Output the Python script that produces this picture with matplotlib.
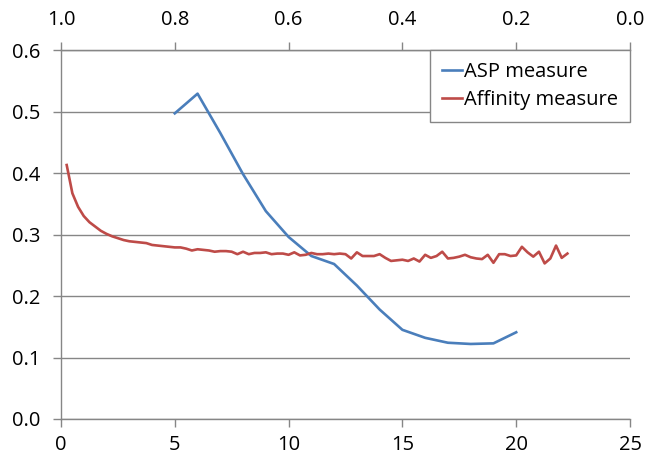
import numpy as np
import matplotlib
matplotlib.use('Agg')
import matplotlib.pyplot as plt

plt.rcParams['font.family'] = ['Open Sans', 'DejaVu Sans']

# ASP measure, sampled at integer x
asp_x = [5, 6, 7, 8, 9, 10, 11, 12, 13, 14, 15, 16, 17, 18, 19, 20]
asp_y = [0.497, 0.529, 0.465, 0.398, 0.338, 0.296, 0.265, 0.252,
         0.217, 0.178, 0.145, 0.132, 0.124, 0.122, 0.123, 0.141]

# Affinity measure, sampled every 0.25 from 0.25 to 22.25
aff_x = np.arange(0.25, 22.26, 0.25)
aff_y = [0.413, 0.367, 0.345, 0.330, 0.320, 0.313, 0.306, 0.301, 0.297, 0.294,
         0.291, 0.289, 0.288, 0.287, 0.286, 0.283, 0.282, 0.281, 0.280, 0.279,
         0.279, 0.277, 0.274, 0.276, 0.275, 0.274, 0.272, 0.273, 0.273, 0.272,
         0.268, 0.272, 0.268, 0.270, 0.270, 0.271, 0.268, 0.269, 0.269, 0.267,
         0.271, 0.266, 0.267, 0.270, 0.268, 0.268, 0.269, 0.268, 0.269, 0.268,
         0.261, 0.271, 0.265, 0.265, 0.265, 0.268, 0.262, 0.257, 0.258, 0.259,
         0.257, 0.261, 0.256, 0.267, 0.262, 0.265, 0.272, 0.261, 0.262, 0.264,
         0.267, 0.263, 0.261, 0.260, 0.267, 0.254, 0.268, 0.268, 0.265, 0.266,
         0.280, 0.271, 0.264, 0.272, 0.253, 0.261, 0.282, 0.262, 0.269]

x_ticks = [0, 5, 10, 15, 20, 25]
y_ticks = [0.0, 0.1, 0.2, 0.3, 0.4, 0.5, 0.6]
top_ticks = [1.0, 0.8, 0.6, 0.4, 0.2, 0.0]

grid_col = '#868686'
fs = 14.5

fig = plt.figure(figsize=(6.6, 4.61), dpi=100)
ax = fig.add_axes([61/660, 1-419/461, (630-61)/660, (419-50)/461])

ax.plot(asp_x, asp_y, color='#4A7EBB', lw=1.9, label='ASP measure', zorder=3)
ax.plot(aff_x[:len(aff_y)], aff_y, color='#BE4B48', lw=1.9, label='Affinity measure', zorder=3)

ax.set_xlim(0, 25)
ax.set_ylim(0, 0.6)
ax.set_xticks(x_ticks)
ax.set_yticks(y_ticks)
ax.set_yticklabels(['%.1f' % v for v in y_ticks])
ax.yaxis.grid(True, color=grid_col, lw=1.0)
ax.set_axisbelow(True)

ax.spines['right'].set_visible(False)
for s in ['left', 'bottom', 'top']:
    ax.spines[s].set_color(grid_col)
    ax.spines[s].set_linewidth(1.0)
ax.tick_params(axis='both', colors=grid_col, labelcolor='black', labelsize=fs,
               length=6, width=1.0, direction='out')
ax.tick_params(axis='x', pad=5.5)
ax.tick_params(axis='y', pad=9)

top = ax.secondary_xaxis('top', functions=(lambda x: 1 - x / 25.0, lambda t: 25.0 * (1 - t)))
top.set_xticks(top_ticks)
top.set_xticklabels(['%.1f' % v for v in top_ticks])
top.spines['top'].set_color(grid_col)
top.tick_params(colors=grid_col, labelcolor='black', labelsize=fs, length=6, width=1.0, pad=8.5)

leg = ax.legend(loc='upper right', bbox_to_anchor=(1.0, 1.0), borderaxespad=0,
                fontsize=fs, handlelength=1.0, handletextpad=0.1,
                labelspacing=0.4, borderpad=0.6, frameon=True, fancybox=False)
leg.get_frame().set_edgecolor(grid_col)
leg.get_frame().set_linewidth(1.0)
leg.get_frame().set_alpha(1.0)

fig.savefig('out.png', dpi=100)
